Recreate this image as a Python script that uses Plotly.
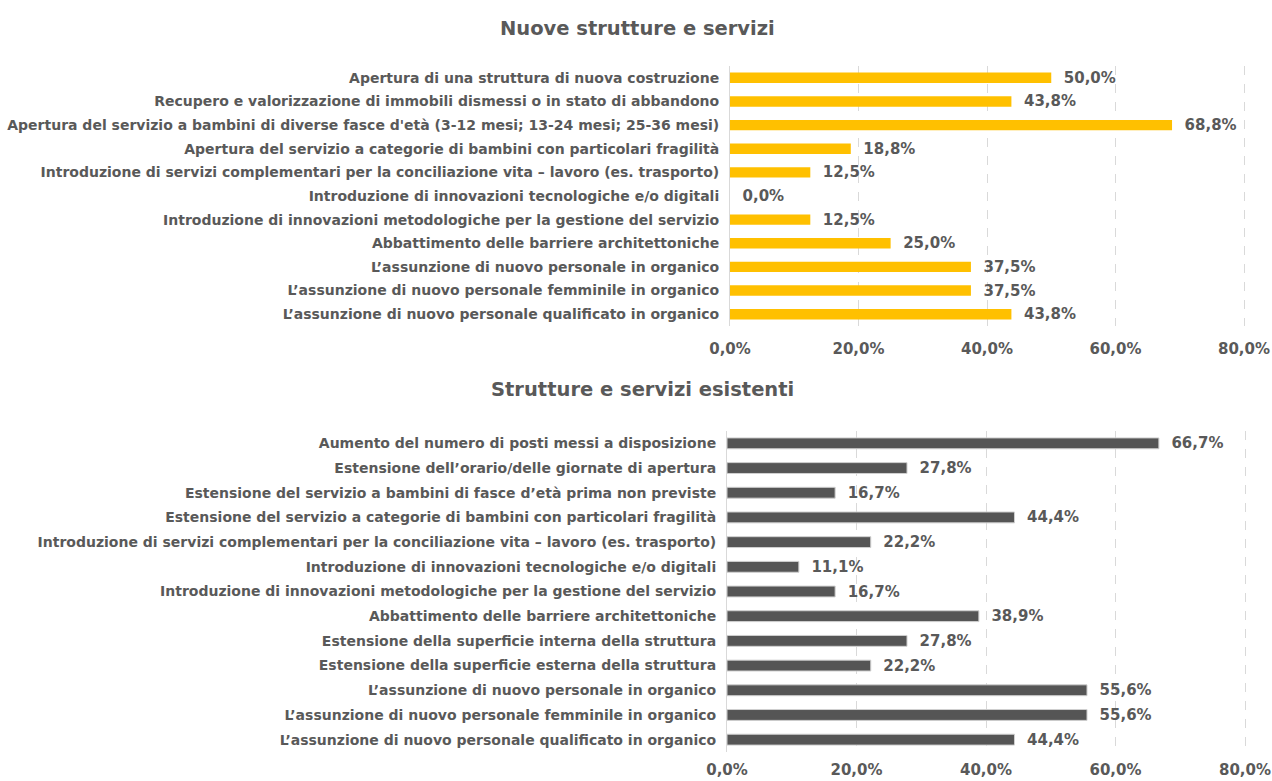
import plotly.graph_objects as go

# Nuove strutture e servizi
nuove_labels = [
    "Apertura di una struttura di nuova costruzione",
    "Recupero e valorizzazione di immobili dismessi o in stato di abbandono",
    "Apertura del servizio a bambini di diverse fasce d'età (3-12 mesi; 13-24 mesi; 25-36 mesi)",
    "Apertura del servizio a categorie di bambini con particolari fragilità",
    "Introduzione di servizi complementari per la conciliazione vita – lavoro (es. trasporto)",
    "Introduzione di innovazioni tecnologiche e/o digitali",
    "Introduzione di innovazioni metodologiche per la gestione del servizio",
    "Abbattimento delle barriere architettoniche",
    "L’assunzione di nuovo personale in organico",
    "L’assunzione di nuovo personale femminile in organico",
    "L’assunzione di nuovo personale qualificato in organico",
]
nuove_values = [50.0, 43.8, 68.8, 18.8, 12.5, 0.0, 12.5, 25.0, 37.5, 37.5, 43.8]

# Strutture e servizi esistenti
esist_labels = [
    "Aumento del numero di posti messi a disposizione",
    "Estensione dell’orario/delle giornate di apertura",
    "Estensione del servizio a bambini di fasce d’età prima non previste",
    "Estensione del servizio a categorie di bambini con particolari fragilità",
    "Introduzione di servizi complementari per la conciliazione vita – lavoro (es. trasporto)",
    "Introduzione di innovazioni tecnologiche e/o digitali",
    "Introduzione di innovazioni metodologiche per la gestione del servizio",
    "Abbattimento delle barriere architettoniche",
    "Estensione della superficie interna della struttura",
    "Estensione della superficie esterna della struttura",
    "L’assunzione di nuovo personale in organico",
    "L’assunzione di nuovo personale femminile in organico",
    "L’assunzione di nuovo personale qualificato in organico",
]
esist_values = [66.7, 27.8, 16.7, 44.4, 22.2, 11.1, 16.7, 38.9, 27.8, 22.2, 55.6, 55.6, 44.4]

tick_vals = [0, 20, 40, 60, 80]
tick_text = ["0,0%", "20,0%", "40,0%", "60,0%", "80,0%"]
titles = ["Nuove strutture e servizi", "Strutture e servizi esistenti"]

GRAY = "#595959"
FONT = "DejaVu Sans"
W, H = 1272, 781


def px(x):
    return x / W


def py(y):
    return 1 - y / H


fig = go.Figure()
fig.add_trace(go.Bar(
    x=nuove_values, y=nuove_labels, orientation="h",
    marker=dict(color="#FFC000", line=dict(width=0)),
    text=nuove_values, texttemplate="\u00a0\u00a0<b>%{x:.1f}%</b>", textposition="outside",
    textfont=dict(size=15, color=GRAY, family=FONT), constraintext="none",
    cliponaxis=False, xaxis="x", yaxis="y", hoverinfo="skip",
))
fig.add_trace(go.Bar(
    x=esist_values, y=esist_labels, orientation="h",
    marker=dict(color="#555555", line=dict(color="#d0d0d0", width=1)),
    text=esist_values, texttemplate="\u00a0\u00a0<b>%{x:.1f}%</b>", textposition="outside",
    textfont=dict(size=15, color=GRAY, family=FONT), constraintext="none",
    cliponaxis=False, xaxis="x2", yaxis="y2", hoverinfo="skip",
))

# range reaches a touch past 80 so the last dashed gridline is drawn
x_hi = 80.4
xcommon = dict(
    range=[0, x_hi], tickvals=tick_vals, ticktext=["<b>%s</b>" % t for t in tick_text],
    showgrid=True, gridcolor="#d9d9d9", griddash="dash", gridwidth=1,
    zeroline=False, showline=False, ticks="", ticklen=0,
    tickfont=dict(size=15, color=GRAY, family=FONT), automargin=False,
)
ycommon = dict(
    autorange="reversed", showline=True, linecolor="#d9d9d9", linewidth=1,
    ticks="", showgrid=False, tickfont=dict(size=14, color=GRAY, family=FONT),
    automargin=False, ticklabelstandoff=7,
)

top_x0, top_x80 = 730, 1244
bot_x0, bot_x80 = 727, 1245
top_end = top_x0 + (top_x80 - top_x0) * x_hi / 80
bot_end = bot_x0 + (bot_x80 - bot_x0) * x_hi / 80

fig.update_layout(
    width=W, height=H, margin=dict(l=0, r=0, t=0, b=0),
    paper_bgcolor="white", plot_bgcolor="white",
    separators=",.", showlegend=False, bargap=0.56,
    font=dict(family=FONT, color=GRAY),
    xaxis=dict(domain=[px(top_x0), px(top_end)], anchor="y",
               ticklabelstandoff=12, **xcommon),
    yaxis=dict(domain=[py(326), py(66)], anchor="x",
               tickvals=nuove_labels, ticktext=["<b>%s</b>" % t for t in nuove_labels],
               **ycommon),
    xaxis2=dict(domain=[px(bot_x0), px(bot_end)], anchor="y2",
                ticklabelstandoff=7, **xcommon),
    yaxis2=dict(domain=[py(752), py(431)], anchor="x2",
                tickvals=esist_labels, ticktext=["<b>%s</b>" % t for t in esist_labels],
                **ycommon),
    annotations=[
        dict(text="<b>" + titles[0] + "</b>", x=px(637), y=py(28),
             xref="paper", yref="paper", showarrow=False, yanchor="middle",
             font=dict(size=19.5, color=GRAY, family=FONT)),
        dict(text="<b>" + titles[1] + "</b>", x=px(642), y=py(389),
             xref="paper", yref="paper", showarrow=False, yanchor="middle",
             font=dict(size=19.5, color=GRAY, family=FONT)),
    ],
)

# drop the default body margin so the 1272x781 figure fills the window exactly
fig.write_html(
    "out.html",
    config={"displayModeBar": False},
    post_script="document.body.style.margin='0';document.body.style.overflow='hidden';",
)
